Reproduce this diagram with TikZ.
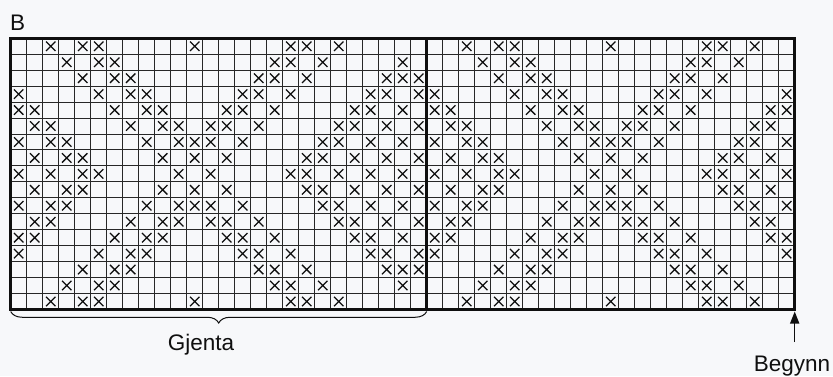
\documentclass[tikz,border=0pt]{standalone}
\usepackage{fontspec}
\setmainfont{Liberation Sans}
\usetikzlibrary{decorations.pathreplacing,arrows.meta}
\definecolor{bgc}{RGB}{247,248,250}
\definecolor{inkc}{RGB}{15,15,15}
\newcommand\xmk[2]{%
  \draw[xline] ({10.7+(#1-0.5)*16-4.7},{38.3+(#2-0.5)*15.95-4.7}) -- ++(9.4,9.4)
               ({10.7+(#1-0.5)*16-4.7},{38.3+(#2-0.5)*15.95+4.7}) -- ++(9.4,-9.4);}
\begin{document}
\begin{tikzpicture}[x=1pt,y=-1pt,
  gridline/.style={line width=1pt,draw=inkc!90},
  thickline/.style={line width=3pt,draw=inkc},
  xline/.style={line width=1.25pt,draw=inkc},
  lbl/.style={font=\fontsize{22.5}{26}\selectfont,text=inkc,inner sep=0pt},
  bracestyle/.style={line width=1pt,draw=inkc,decorate,decoration={brace,mirror,amplitude=11.5pt}},
  arrowstyle/.style={line width=1.5pt,draw=inkc,-{Triangle[length=12pt,width=9pt]}}]
\fill[bgc] (0,0) rectangle (833,376);
\useasboundingbox (0,0) rectangle (833,376);
% thin grid
\foreach \i in {0,...,49} \draw[gridline] ({10.7+\i*16},38.3) -- ({10.7+\i*16},{38.3+17*15.95});
\foreach \j in {0,...,17} \draw[gridline] (10.7,{38.3+\j*15.95}) -- ({10.7+49*16},{38.3+\j*15.95});
% crosses
\foreach \r/\cl in {1/{3,5,6,12,18,19,21},
                    2/{4,6,7,17,18,20,25},
                    3/{5,7,8,16,17,19,24,25,26},
                    4/{1,6,8,9,15,16,18,23,24,26},
                    5/{1,2,7,9,10,14,15,17,22,23,25},
                    6/{2,3,8,10,11,13,14,16,21,22,24,26},
                    7/{1,3,4,9,11,12,13,15,20,21,23,25},
                    8/{2,4,5,10,12,14,19,20,22,24,26},
                    9/{1,3,5,6,11,13,18,19,21,23,25}}{
  \pgfmathtruncatemacro\rr{18-\r}
  \foreach \k in \cl {
    \xmk{\k}{\r}
    \ifnum\r<9 \xmk{\k}{\rr}\fi
    \ifnum\k<24
      \pgfmathtruncatemacro\kk{\k+26}
      \xmk{\kk}{\r}
      \ifnum\r<9 \xmk{\kk}{\rr}\fi
    \fi
  }
}
% thick frame and divider
\draw[thickline] (10.7,38.3) rectangle ({10.7+49*16},{38.3+17*15.95});
\draw[thickline] ({10.7+26*16},38.3) -- ({10.7+26*16},{38.3+17*15.95});
% labels
\node[lbl,anchor=base west] (lblB) at (10,30) {B};
\node[lbl,anchor=base] (gjenta) at (201,350) {Gjenta};
\node[lbl,anchor=base] (begynn) at (792,371.5) {Begynn};
% brace
\coordinate (bl) at (10.7,311.5);
\coordinate (br) at (426.7,311.5);
\draw[bracestyle] (bl) -- (br);
% arrow
\coordinate (arrtail) at (794.7,342);
\coordinate (arrtip) at (794.7,311.5);
\draw[arrowstyle] (arrtail) -- (arrtip);
\end{tikzpicture}
\end{document}
